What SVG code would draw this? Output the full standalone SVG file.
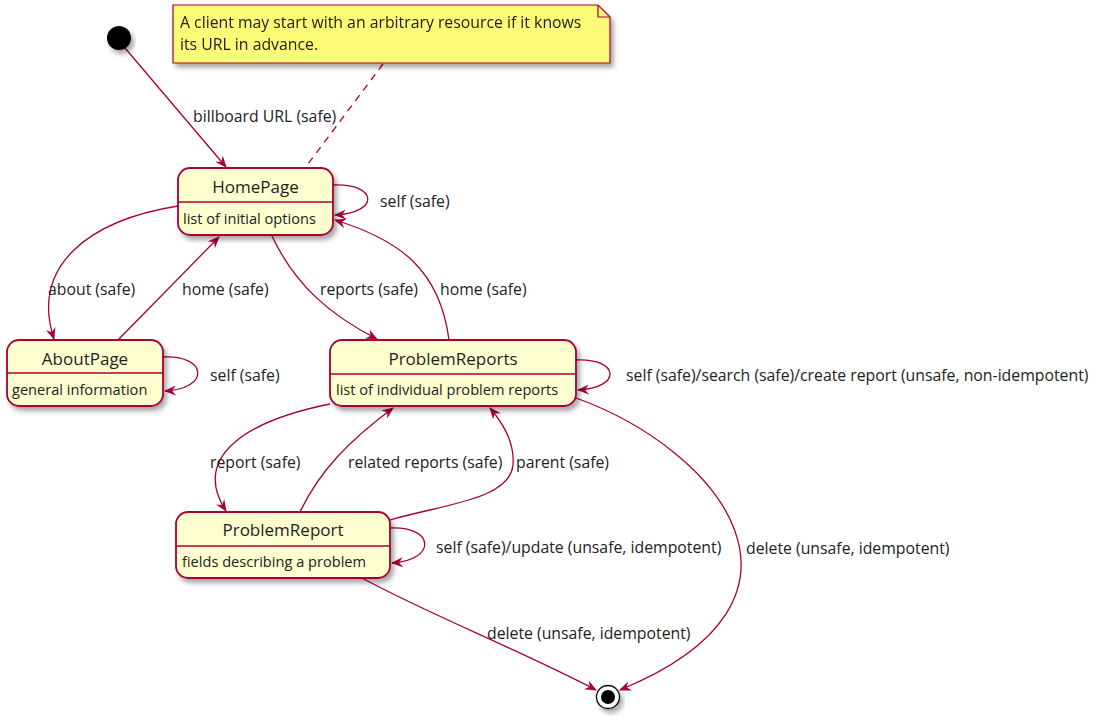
<svg xmlns="http://www.w3.org/2000/svg" width="1105" height="716" viewBox="0 0 1105 716">
  <style>
    .state { fill: #FEFECE; stroke: #A80036; stroke-width: 1.8; }
    .divider { stroke: #A80036; stroke-width: 1.5; }
    .title { font-family: "Open Sans", "Liberation Sans", sans-serif; font-size: 17px; fill: #1e1e1e; text-anchor: middle; }
    .body { font-family: "Open Sans", "Liberation Sans", sans-serif; font-size: 14.6px; fill: #222; }
    .lbl { font-family: "Open Sans", "Liberation Sans", sans-serif; font-size: 15.8px; fill: #222; }
    .edge { fill: none; stroke: #A80036; stroke-width: 1.3; marker-end: url(#arrow); }
    .note { fill: #FBFB77; stroke: #A80036; stroke-width: 1.2; }
    .notetext { font-family: "Open Sans", "Liberation Sans", sans-serif; font-size: 15.8px; fill: #222; }
  </style>
  <defs>
    <filter id="shadow" x="-10%" y="-10%" width="130%" height="140%">
      <feDropShadow dx="3" dy="4" stdDeviation="2.5" flood-color="#000" flood-opacity="0.35"/>
    </filter>
    <marker id="arrow" viewBox="0 0 12 10" refX="11" refY="5" markerWidth="12" markerHeight="10" markerUnits="userSpaceOnUse" orient="auto">
      <path d="M0,0 L12,5 L0,10 L4,5 Z" fill="#A80036"/>
    </marker>
  </defs>
  <rect width="1105" height="716" fill="#FFFFFF"/>

  <!-- connectors -->
  <g id="connectors">
    <path class="edge" d="M125,48 L226,167"/>
    <path d="M383,64 L305,168" fill="none" stroke="#A80036" stroke-width="1.3" stroke-dasharray="7,6"/>
    <path class="edge" d="M333,185 C378,183 380,213 335,215"/>
    <path class="edge" d="M178,206 C90,220 30,265 54,339"/>
    <path class="edge" d="M118,340 L219,237"/>
    <path class="edge" d="M272,236 C295,285 330,315 377,339"/>
    <path class="edge" d="M449,340 C440,270 400,240 335,220"/>
    <path class="edge" d="M576,360 C620,358 622,388 578,390"/>
    <path class="edge" d="M576,398 C720,450 840,600 620,690"/>
    <path class="edge" d="M330,404 C250,420 190,455 226,511"/>
    <path class="edge" d="M300,512 C320,470 350,440 393,408"/>
    <path class="edge" d="M390,520 C440,505 510,500 513,465 C515,440 500,420 490,408"/>
    <path class="edge" d="M390,528 C435,526 437,560 392,563"/>
    <path class="edge" d="M362,578 C430,615 520,650 596,690"/>

    <text class="lbl" x="193" y="122">billboard URL (safe)</text>
    <text class="lbl" x="380" y="207">self (safe)</text>
    <text class="lbl" x="48" y="295">about (safe)</text>
    <text class="lbl" x="182" y="295">home (safe)</text>
    <text class="lbl" x="320" y="295">reports (safe)</text>
    <text class="lbl" x="440" y="295">home (safe)</text>
    <text class="lbl" x="210" y="381">self (safe)</text>
    <text class="lbl" x="626" y="381">self (safe)/search (safe)/create report (unsafe, non-idempotent)</text>
    <text class="lbl" x="210" y="468">report (safe)</text>
    <text class="lbl" x="348" y="468">related reports (safe)</text>
    <text class="lbl" x="516" y="468">parent (safe)</text>
    <text class="lbl" x="436" y="553">self (safe)/update (unsafe, idempotent)</text>
    <text class="lbl" x="746" y="554">delete (unsafe, idempotent)</text>
    <text class="lbl" x="487" y="639">delete (unsafe, idempotent)</text>
  </g>

  <!-- AboutPage self loop -->
  <g id="about-self">
    <path class="edge" d="M163,357 C208,355 210,389 165,391"/>
  </g>

  <!-- start / end -->
  <g id="start">
    <circle cx="119" cy="38" r="12" fill="#000" filter="url(#shadow)"/>
  </g>
  <g id="end">
    <circle cx="608" cy="697" r="11.5" fill="#FFF" stroke="#000" stroke-width="1.3" filter="url(#shadow)"/>
    <circle cx="608" cy="697" r="7" fill="#000"/>
  </g>

  <!-- note -->
  <g id="note" filter="url(#shadow)">
    <path class="note" d="M173,5 L598,5 L610,17 L610,63 L173,63 Z"/>
    <path d="M598,5 L598,17 L610,17" fill="none" stroke="#A80036" stroke-width="1.2"/>
    <text class="notetext" x="180" y="28">A client may start with an arbitrary resource if it knows</text>
    <text class="notetext" x="180" y="50">its URL in advance.</text>
  </g>

  <g id="HomePage">
    <rect class="state" x="178" y="168" width="155" height="67" rx="12" filter="url(#shadow)"/>
    <line class="divider" x1="178" y1="202" x2="333" y2="202"/>
    <text class="title" x="255.5" y="193">HomePage</text>
    <text class="body" x="183" y="224">list of initial options</text>
  </g>

  <g id="AboutPage">
    <rect class="state" x="7" y="340" width="156" height="66" rx="12" filter="url(#shadow)"/>
    <line class="divider" x1="7" y1="373" x2="163" y2="373"/>
    <text class="title" x="85" y="365">AboutPage</text>
    <text class="body" x="12" y="395">general information</text>
  </g>

  <g id="ProblemReports">
    <rect class="state" x="330" y="340" width="246" height="66" rx="12" filter="url(#shadow)"/>
    <line class="divider" x1="330" y1="374" x2="576" y2="374"/>
    <text class="title" x="453" y="365">ProblemReports</text>
    <text class="body" x="336" y="395">list of individual problem reports</text>
  </g>

  <g id="ProblemReport">
    <rect class="state" x="176" y="512" width="214" height="66" rx="12" filter="url(#shadow)"/>
    <line class="divider" x1="176" y1="546" x2="390" y2="546"/>
    <text class="title" x="283" y="536">ProblemReport</text>
    <text class="body" x="182" y="567">fields describing a problem</text>
  </g>
</svg>
